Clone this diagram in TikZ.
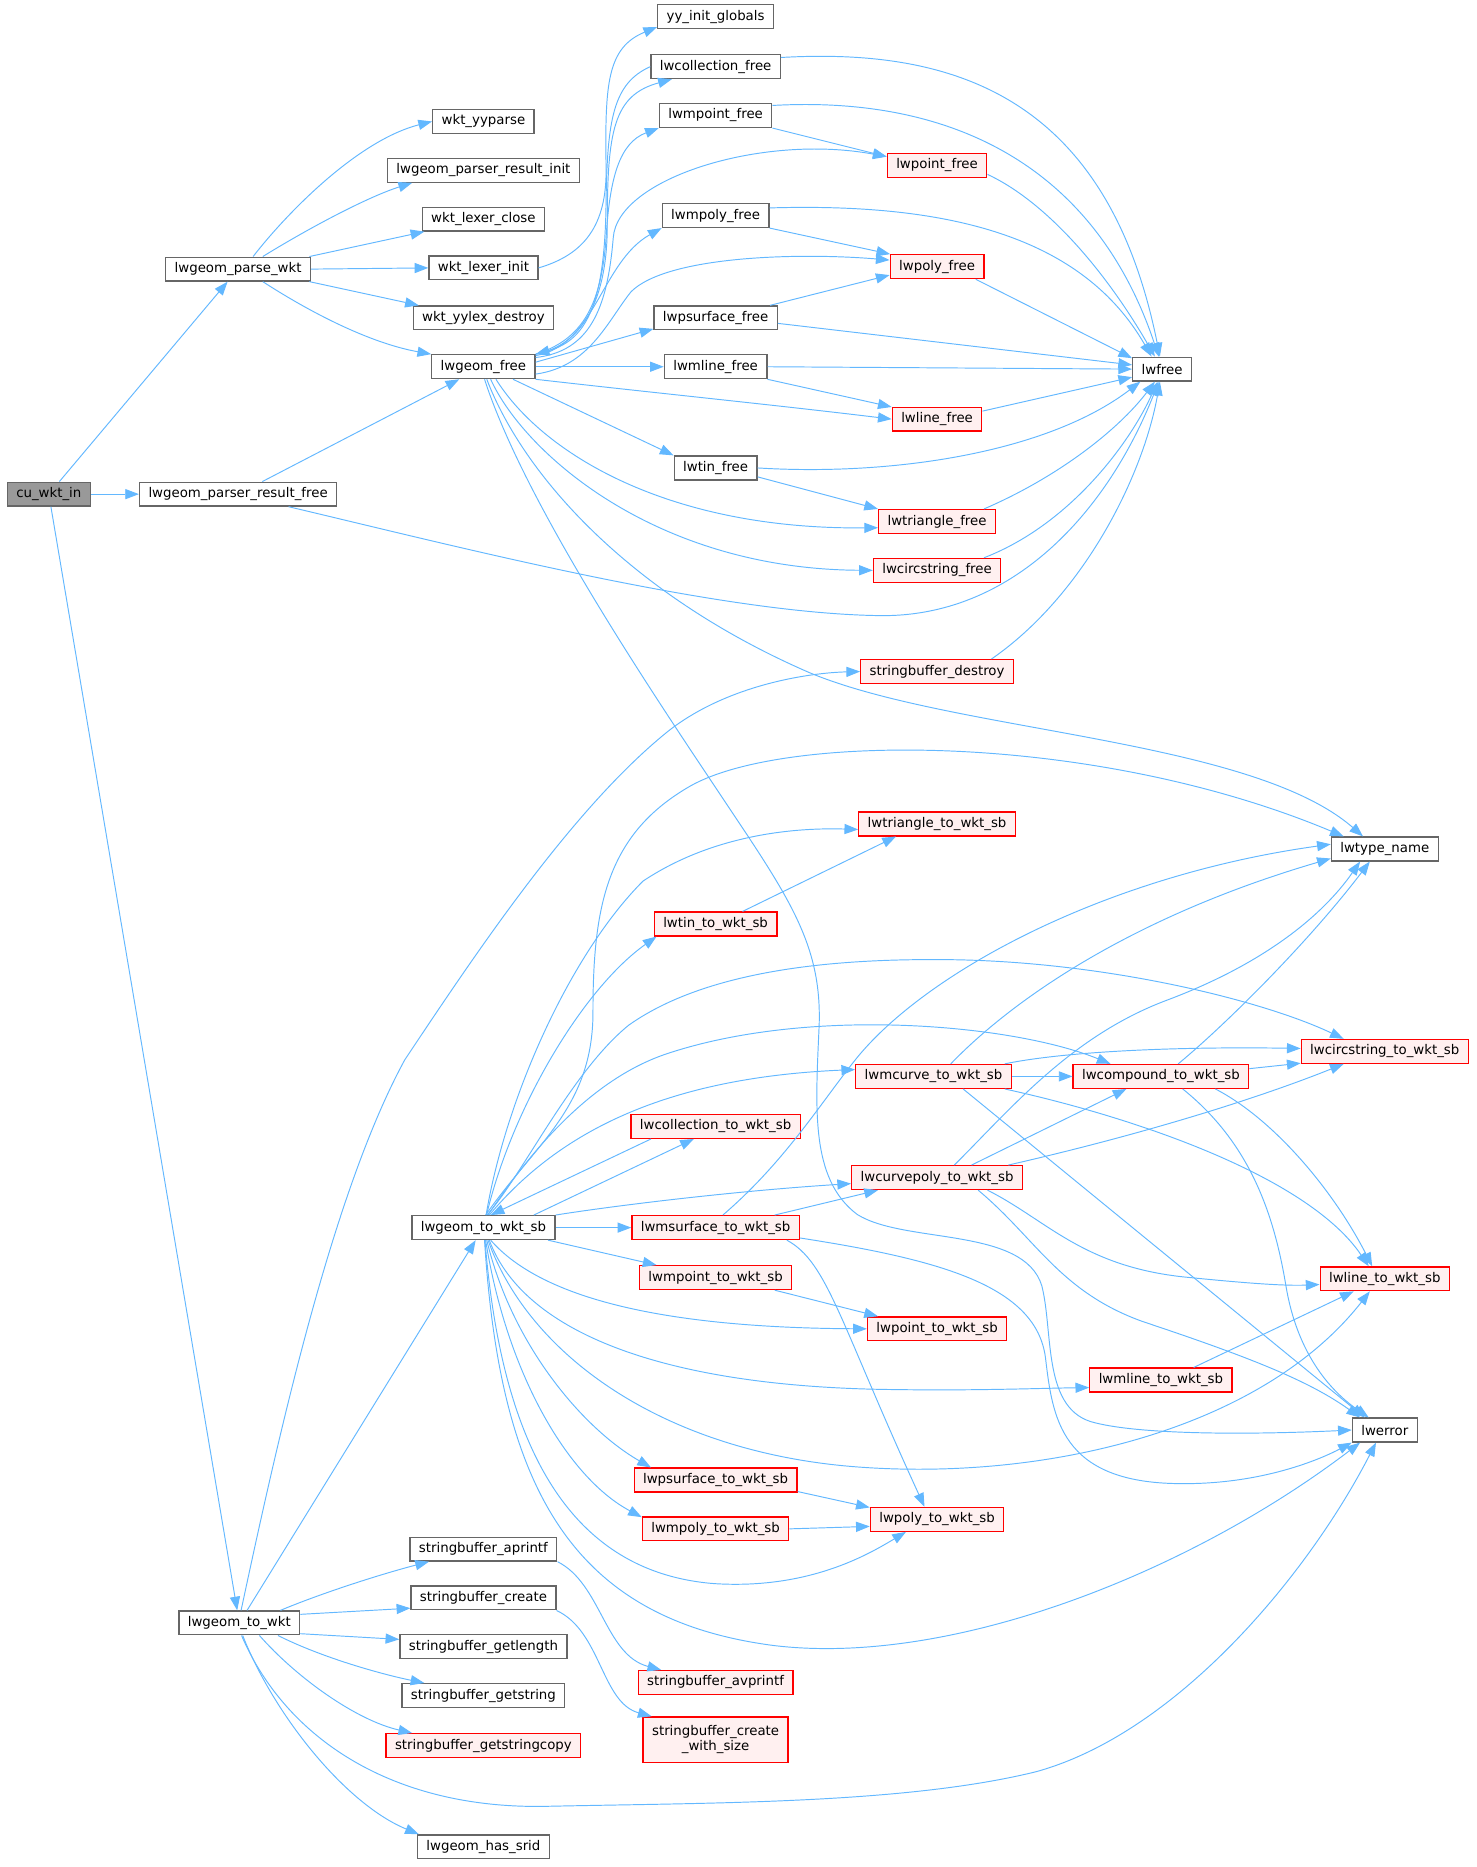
\documentclass[tikz,border=0pt]{standalone}
\usepackage{fontspec}
\setmainfont{DejaVu Sans}
\usetikzlibrary{arrows.meta}
\definecolor{edgeblue}{HTML}{63B8FF}
\definecolor{boxgray}{HTML}{666666}
\definecolor{rootfill}{HTML}{999999}
\definecolor{redfill}{HTML}{FFF0F0}
\definecolor{redline}{HTML}{FF0000}

\begin{document}
\begin{tikzpicture}[x=1pt,y=1pt,
  func/.style={draw=boxgray,fill=white,line width=1.1pt,minimum height=20pt,inner xsep=7.5pt,inner ysep=0pt,font=\fontsize{11.2}{13}\selectfont},
  funcred/.style={func,draw=redline,fill=redfill},
  funcroot/.style={func,fill=rootfill},
  call/.style={edgeblue,line width=0.8pt,-{Triangle[length=11.5pt,width=8.5pt]}}]
  \fill[white] (0,0) rectangle (1240,-1568);
  \useasboundingbox (0,0) rectangle (1240,-1568);

  \node[funcroot] (cuwktin) at (41,-415) {cu\_wkt\_in};
  \node[func] (parsewkt) at (200,-226) {lwgeom\_parse\_wkt};
  \node[func] (resultfree) at (200,-415) {lwgeom\_parser\_result\_free};
  \node[func] (towkt) at (201,-1363) {lwgeom\_to\_wkt};
  \node[func] (yyparse) at (406,-102) {wkt\_yyparse};
  \node[func] (resultinit) at (406,-143) {lwgeom\_parser\_result\_init};
  \node[func] (lexerclose) at (406,-184) {wkt\_lexer\_close};
  \node[func] (lexerinit) at (406,-225) {wkt\_lexer\_init};
  \node[func] (yylexdestroy) at (406,-267) {wkt\_yylex\_destroy};
  \node[func] (geomfree) at (406,-308) {lwgeom\_free};
  \node[func] (towktsb) at (406,-1031) {lwgeom\_to\_wkt\_sb};
  \node[func] (sbaprintf) at (406,-1301) {stringbuffer\_aprintf};
  \node[func] (sbcreate) at (406,-1342) {stringbuffer\_create};
  \node[func] (sbgetlength) at (406,-1383) {stringbuffer\_getlength};
  \node[func] (sbgetstring) at (406,-1424) {stringbuffer\_getstring};
  \node[funcred] (sbgetcopy) at (406,-1466) {stringbuffer\_getstringcopy};
  \node[func] (hassrid) at (406,-1551) {lwgeom\_has\_srid};
  \node[func] (yyinit) at (601,-14) {yy\_init\_globals};
  \node[func] (collfree) at (601,-56) {lwcollection\_free};
  \node[func] (mpointfree) at (601,-97) {lwmpoint\_free};
  \node[func] (mpolyfree) at (601,-181) {lwmpoly\_free};
  \node[func] (psurffree) at (601,-267) {lwpsurface\_free};
  \node[func] (mlinefree) at (601,-308) {lwmline\_free};
  \node[func] (tinfree) at (601,-393) {lwtin\_free};
  \node[funcred] (tinsb) at (601,-776) {lwtin\_to\_wkt\_sb};
  \node[funcred] (collsb) at (601,-946) {lwcollection\_to\_wkt\_sb};
  \node[funcred] (msurfsb) at (601,-1031) {lwmsurface\_to\_wkt\_sb};
  \node[funcred] (mpointsb) at (601,-1073) {lwmpoint\_to\_wkt\_sb};
  \node[funcred] (psurfsb) at (601,-1243) {lwpsurface\_to\_wkt\_sb};
  \node[funcred] (mpolysb) at (601,-1284) {lwmpoly\_to\_wkt\_sb};
  \node[funcred] (avprintf) at (601,-1413) {stringbuffer\_avprintf};
  \node[funcred,align=center,minimum height=38pt] (createws) at (601,-1461) {stringbuffer\_create\\\_with\_size};
  \node[funcred] (pointfree) at (787,-139) {lwpoint\_free};
  \node[funcred] (polyfree) at (787,-224) {lwpoly\_free};
  \node[funcred] (linefree) at (787,-352) {lwline\_free};
  \node[funcred] (trifree) at (787,-438) {lwtriangle\_free};
  \node[funcred] (circfree) at (787,-479) {lwcircstring\_free};
  \node[funcred] (sbdestroy) at (787,-564) {stringbuffer\_destroy};
  \node[funcred] (trisb) at (787,-692) {lwtriangle\_to\_wkt\_sb};
  \node[funcred] (mcurvesb) at (784,-904) {lwmcurve\_to\_wkt\_sb};
  \node[funcred] (curvepolysb) at (787,-989) {lwcurvepoly\_to\_wkt\_sb};
  \node[funcred] (pointsb) at (787,-1116) {lwpoint\_to\_wkt\_sb};
  \node[funcred] (polysb) at (787,-1276) {lwpoly\_to\_wkt\_sb};
  \node[func] (lwfree) at (976,-310) {lwfree};
  \node[funcred] (compoundsb) at (975,-904) {lwcompound\_to\_wkt\_sb};
  \node[funcred] (mlinesb) at (975,-1159) {lwmline\_to\_wkt\_sb};
  \node[func] (typename) at (1163,-713) {lwtype\_name};
  \node[funcred] (circsb) at (1163,-883) {lwcircstring\_to\_wkt\_sb};
  \node[funcred] (linesb) at (1163,-1074) {lwline\_to\_wkt\_sb};
  \node[func] (lwerror) at (1163,-1201) {lwerror};

  \draw[call] (cuwktin) -- (parsewkt);
  \draw[call] (cuwktin) -- (resultfree);
  \draw[call] (cuwktin) -- (towkt);

  \draw[call] (parsewkt.40) .. controls (240,-180) and (300,-118) .. (yyparse.west);
  \draw[call] (parsewkt.27) .. controls (262,-190) and (310,-165) .. (resultinit.190);
  \draw[call] (parsewkt.10) -- (lexerclose.192);
  \draw[call] (parsewkt.east) -- (lexerinit.west);
  \draw[call] (parsewkt.-10) -- (yylexdestroy.169);
  \draw[call] (parsewkt.-27) .. controls (260,-262) and (310,-288) .. (geomfree.north west);
  \draw[call] (lexerinit.east) .. controls (490,-214) and (510,-190) .. (509,-140) .. controls (508,-70) and (510,-40) .. (yyinit.190);

  \draw[call] (resultfree) -- (geomfree);
  \draw[call] (resultfree.-14) .. controls (380,-458) and (600,-515) .. (738,-517) .. controls (850,-519) and (930,-430) .. (lwfree.-105);

  \draw[call] (geomfree.north east) .. controls (490,-290) and (510,-250) .. (510,-190) .. controls (510,-110) and (515,-80) .. (collfree.196);
  \draw[call] (collfree.west) .. controls (515,-70) and (510,-100) .. (509,-170) .. controls (508,-250) and (495,-285) .. (geomfree.north east);
  \draw[call] (geomfree.north east) .. controls (490,-285) and (505,-255) .. (509,-200) .. controls (512,-150) and (520,-120) .. (mpointfree.south west);
  \draw[call] (geomfree.10) .. controls (495,-295) and (510,-260) .. (515,-200) .. controls (518,-150) and (640,-112) .. (pointfree.170);
  \draw[call] (geomfree.12) .. controls (500,-290) and (505,-220) .. (mpolyfree.south west);
  \draw[call] (geomfree.-8) .. controls (495,-308) and (510,-270) .. (530,-245) .. controls (560,-215) and (670,-212) .. (polyfree.172);
  \draw[call] (geomfree.5) -- (psurffree.190);
  \draw[call] (geomfree.east) -- (mlinefree.west);
  \draw[call] (geomfree.south east) .. controls (550,-330) and (650,-340) .. (linefree.west);
  \draw[call] (geomfree.-23) -- (tinfree.north west);
  \draw[call] (geomfree.-45) .. controls (455,-380) and (560,-445) .. (trifree.186);
  \draw[call] (geomfree.-60) .. controls (440,-380) and (550,-478) .. (circfree.west);
  \draw[call] (geomfree.-75) .. controls (440,-400) and (530,-500) .. (680,-565) .. controls (800,-615) and (1050,-620) .. (typename.150);
  \draw[call] (geomfree.-85) .. controls (440,-420) and (540,-570) .. (600,-660) .. controls (660,-750) and (690,-790) .. (688,-860) .. controls (685,-930) and (680,-990) .. (720,-1020) .. controls (760,-1045) and (860,-1030) .. (875,-1080) .. controls (885,-1120) and (875,-1185) .. (920,-1195) .. controls (960,-1205) and (1050,-1205) .. (lwerror.west);

  \draw[call] (collfree.8) .. controls (800,-40) and (930,-80) .. (lwfree.100);
  \draw[call] (mpointfree.10) .. controls (800,-80) and (920,-140) .. (lwfree.105);
  \draw[call] (mpointfree.south east) -- (pointfree.170);
  \draw[call] (pointfree.-10) .. controls (880,-170) and (930,-230) .. (lwfree.120);
  \draw[call] (mpolyfree.8) .. controls (800,-170) and (910,-200) .. (lwfree.130);
  \draw[call] (mpolyfree.south east) -- (polyfree.165);
  \draw[call] (polyfree.-18) -- (lwfree.160);
  \draw[call] (psurffree.13) -- (polyfree.190);
  \draw[call] (psurffree.-5) -- (lwfree.172);
  \draw[call] (mlinefree.east) -- (lwfree.west);
  \draw[call] (mlinefree.south east) -- (linefree.165);
  \draw[call] (linefree.10) -- (lwfree.195);
  \draw[call] (tinfree.east) .. controls (750,-400) and (880,-380) .. (lwfree.-150);
  \draw[call] (tinfree.-12) -- (trifree.north west);
  \draw[call] (trifree.15) .. controls (890,-400) and (940,-360) .. (lwfree.-120);
  \draw[call] (circfree.15) .. controls (900,-440) and (950,-370) .. (lwfree.-110);
  \draw[call] (sbdestroy.13) .. controls (910,-500) and (960,-400) .. (lwfree.-100);

  \draw[call] (towkt) -- (towktsb);
  \draw[call] (towkt.82) .. controls (235,-1200) and (280,-1000) .. (340,-890) .. controls (400,-800) and (480,-680) .. (560,-615) .. controls (610,-575) and (680,-565) .. (sbdestroy.west);
  \draw[call] (towkt.17) .. controls (270,-1338) and (320,-1322) .. (sbaprintf.193);
  \draw[call] (towkt.8) -- (sbcreate.188);
  \draw[call] (towkt.-10) -- (sbgetlength.175);
  \draw[call] (towkt.-18) .. controls (270,-1392) and (320,-1406) .. (sbgetstring.168);
  \draw[call] (towkt.-32) .. controls (250,-1410) and (300,-1445) .. (sbgetcopy.170);
  \draw[call] (towkt.-75) .. controls (230,-1440) and (290,-1515) .. (hassrid.169);
  \draw[call] (towkt.-80) .. controls (240,-1460) and (330,-1520) .. (460,-1517) .. controls (600,-1514) and (760,-1515) .. (870,-1488) .. controls (990,-1455) and (1100,-1320) .. (lwerror.-125);
  \draw[call] (sbaprintf.south east) .. controls (505,-1330) and (508,-1390) .. (avprintf.167);
  \draw[call] (sbcreate.south east) .. controls (505,-1370) and (505,-1430) .. (createws.160);

  \draw[call] (towktsb.80) .. controls (450,-960) and (498,-930) .. (498,-850) .. controls (498,-760) and (510,-700) .. (580,-660) .. controls (660,-615) and (920,-615) .. (typename.163);
  \draw[call] (towktsb.78) .. controls (425,-920) and (480,-800) .. (540,-740) .. controls (600,-700) and (670,-695) .. (trisb.184);
  \draw[call] (towktsb.76) .. controls (430,-930) and (490,-830) .. (tinsb.192);
  \draw[call] (towktsb.74) .. controls (440,-985) and (480,-900) .. (528,-861) .. controls (600,-810) and (720,-805) .. (800,-806) .. controls (930,-808) and (1060,-840) .. (circsb.163);
  \draw[call] (towktsb.70) .. controls (450,-960) and (500,-905) .. (560,-885) .. controls (680,-845) and (850,-860) .. (compoundsb.166);
  \draw[call] (towktsb.65) .. controls (470,-950) and (560,-905) .. (mcurvesb.175);
  \draw[call] (towktsb.14) -- (collsb.-150);
  \draw[call] (collsb.-169) -- (towktsb.60);
  \draw[call] (towktsb.north east) .. controls (520,-1012) and (620,-1000) .. (curvepolysb.184);
  \draw[call] (towktsb.east) -- (msurfsb.west);
  \draw[call] (towktsb.-11) -- (mpointsb.168);
  \draw[call] (towktsb.-60) .. controls (450,-1085) and (540,-1115) .. (pointsb.west);
  \draw[call] (towktsb.-65) .. controls (440,-1120) and (560,-1165) .. (750,-1167) .. controls (820,-1168) and (870,-1166) .. (mlinesb.186);
  \draw[call] (towktsb.-70) .. controls (445,-1140) and (560,-1220) .. (720,-1232) .. controls (880,-1244) and (1060,-1200) .. (linesb.-140);
  \draw[call] (towktsb.-75) .. controls (430,-1130) and (490,-1200) .. (psurfsb.169);
  \draw[call] (towktsb.-80) .. controls (425,-1150) and (475,-1240) .. (mpolysb.171);
  \draw[call] (towktsb.-83) .. controls (420,-1200) and (470,-1320) .. (600,-1330) .. controls (680,-1335) and (730,-1305) .. (polysb.-158);
  \draw[call] (towktsb.-85) .. controls (420,-1250) and (480,-1360) .. (650,-1382) .. controls (800,-1400) and (1000,-1320) .. (lwerror.-153);

  \draw[call] (tinsb.25) -- (trisb.-163);
  \draw[call] (msurfsb.12) -- (curvepolysb.-168);
  \draw[call] (msurfsb.60) .. controls (660,-975) and (690,-925) .. (720,-888) .. controls (780,-815) and (930,-735) .. (typename.175);
  \draw[call] (msurfsb.-10) .. controls (695,-1060) and (705,-1110) .. (polysb.135);
  \draw[call] (msurfsb.-7) .. controls (790,-1058) and (870,-1080) .. (878,-1140) .. controls (884,-1190) and (890,-1245) .. (990,-1246) .. controls (1060,-1247) and (1110,-1225) .. (lwerror.south west);
  \draw[call] (mpointsb.-12) -- (pointsb.168);
  \draw[call] (psurfsb.-8) -- (polysb.170);
  \draw[call] (mpolysb.east) -- (polysb.186);

  \draw[call] (mcurvesb.36) .. controls (850,-840) and (950,-770) .. (typename.190);
  \draw[call] (mcurvesb.10) .. controls (900,-882) and (1000,-879) .. (circsb.178);
  \draw[call] (mcurvesb.east) -- (compoundsb.west);
  \draw[call] (mcurvesb.-10) .. controls (960,-940) and (1100,-990) .. (linesb.142);
  \draw[call] (mcurvesb.-23) -- (lwerror.148);
  \draw[call] (compoundsb.36) .. controls (1030,-860) and (1100,-790) .. (typename.-140);
  \draw[call] (compoundsb.5) -- (circsb.188);
  \draw[call] (compoundsb.-13) .. controls (1070,-940) and (1120,-1000) .. (linesb.135);
  \draw[call] (compoundsb.-30) .. controls (1050,-960) and (1070,-1020) .. (1080,-1080) .. controls (1090,-1140) and (1120,-1170) .. (lwerror.142);
  \draw[call] (curvepolysb.36) .. controls (850,-930) and (900,-870) .. (980,-840) .. controls (1060,-810) and (1110,-770) .. (typename.-153);
  \draw[call] (curvepolysb.20) -- (compoundsb.-160);
  \draw[call] (curvepolysb.10) .. controls (950,-955) and (1050,-925) .. (circsb.-163);
  \draw[call] (curvepolysb.-14) .. controls (880,-1025) and (910,-1065) .. (1000,-1073) .. controls (1050,-1078) and (1080,-1080) .. (linesb.185);
  \draw[call] (curvepolysb.-17) .. controls (870,-1040) and (890,-1085) .. (960,-1110) .. controls (1050,-1140) and (1100,-1160) .. (lwerror.153);
  \draw[call] (mlinesb.21) -- (linesb.-158);
\end{tikzpicture}
\end{document}
